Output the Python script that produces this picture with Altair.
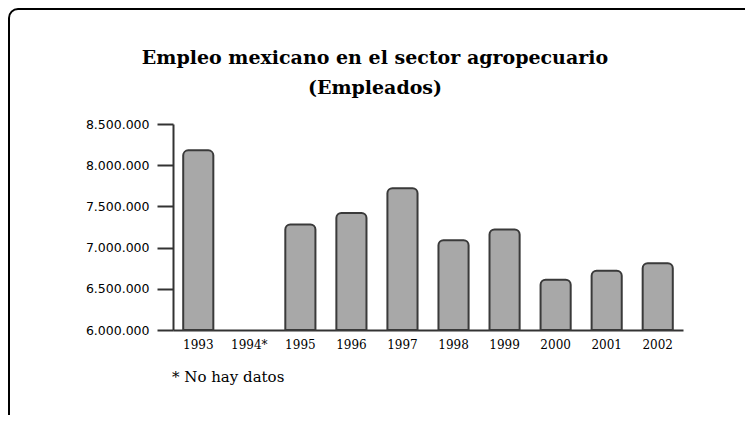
import altair as alt
import pandas as pd

years = ["1993", "1994*", "1995", "1996", "1997", "1998", "1999", "2000", "2001", "2002"]
values = [8180000, None, 7280000, 7420000, 7720000, 7090000, 7220000, 6610000, 6720000, 6810000]
tick_values = [6000000, 6500000, 7000000, 7500000, 8000000, 8500000]
baseline = 6000000
title_lines = ["Empleo mexicano en el sector agropecuario", "(Empleados)"]
note = ["* No hay datos"]

df = pd.DataFrame({"year": years, "value": values, "base": [baseline] * len(years)})

x = alt.X(
    "year:N",
    sort=years,
    scale=alt.Scale(domain=years, paddingInner=0.41, paddingOuter=0.2),
    axis=alt.Axis(
        title=None, labelAngle=0, ticks=False, domainColor="#333333", domainWidth=2,
        labelFont="DejaVu Serif", labelFontSize=12, labelColor="#000000", labelPadding=9,
    ),
)
y = alt.Y(
    "value:Q",
    scale=alt.Scale(domain=[6000000, 8500000], zero=False, nice=False),
    axis=alt.Axis(
        title=None, values=tick_values, grid=False,
        labelExpr="replace(replace(format(datum.value, ','), ',', '.'), ',', '.')",
        tickSize=16, tickWidth=2, tickColor="#333333", domainColor="#333333", domainWidth=2,
        labelFont="DejaVu Sans", labelFontSize=12.5,
        labelColor="#000000", labelPadding=8,
    ),
)

bars = alt.Chart(df).mark_bar(
    color="#a8a8a8", stroke="#3a3a3a", strokeWidth=2,
    cornerRadiusTopLeft=5, cornerRadiusTopRight=5,
).encode(x=x, y=y, y2=alt.Y2("base:Q"))

one_row = alt.Data(values=[{"a": 1}])

frame = alt.Chart(one_row).mark_rect(
    fillOpacity=0, stroke="#000000", strokeWidth=2, cornerRadius=9,
).encode(x=alt.value(-164), x2=alt.value(640), y=alt.value(-115), y2=alt.value(420))

title = alt.Chart(one_row).mark_text(
    text=title_lines, align="center", baseline="alphabetic", lineHeight=30,
    font="DejaVu Serif", fontSize=19, fontWeight="bold", color="#000000",
).encode(x=alt.value(202), y=alt.value(-60))

footnote = alt.Chart(pd.DataFrame({"t": note})).mark_text(
    align="left", baseline="alphabetic", font="DejaVu Serif", fontSize=15, color="#000000",
).encode(text="t:N", x=alt.value(-1), y=alt.value(258))

chart = alt.layer(frame, title, bars, footnote).properties(
    width=510,
    height=206,
    autosize=alt.AutoSizeParams(type="none"),
    padding={"left": 165, "top": 116, "right": 62, "bottom": 85},
).configure_view(strokeWidth=0)

chart.save("out.html", embed_options={"renderer": "svg", "actions": False})
